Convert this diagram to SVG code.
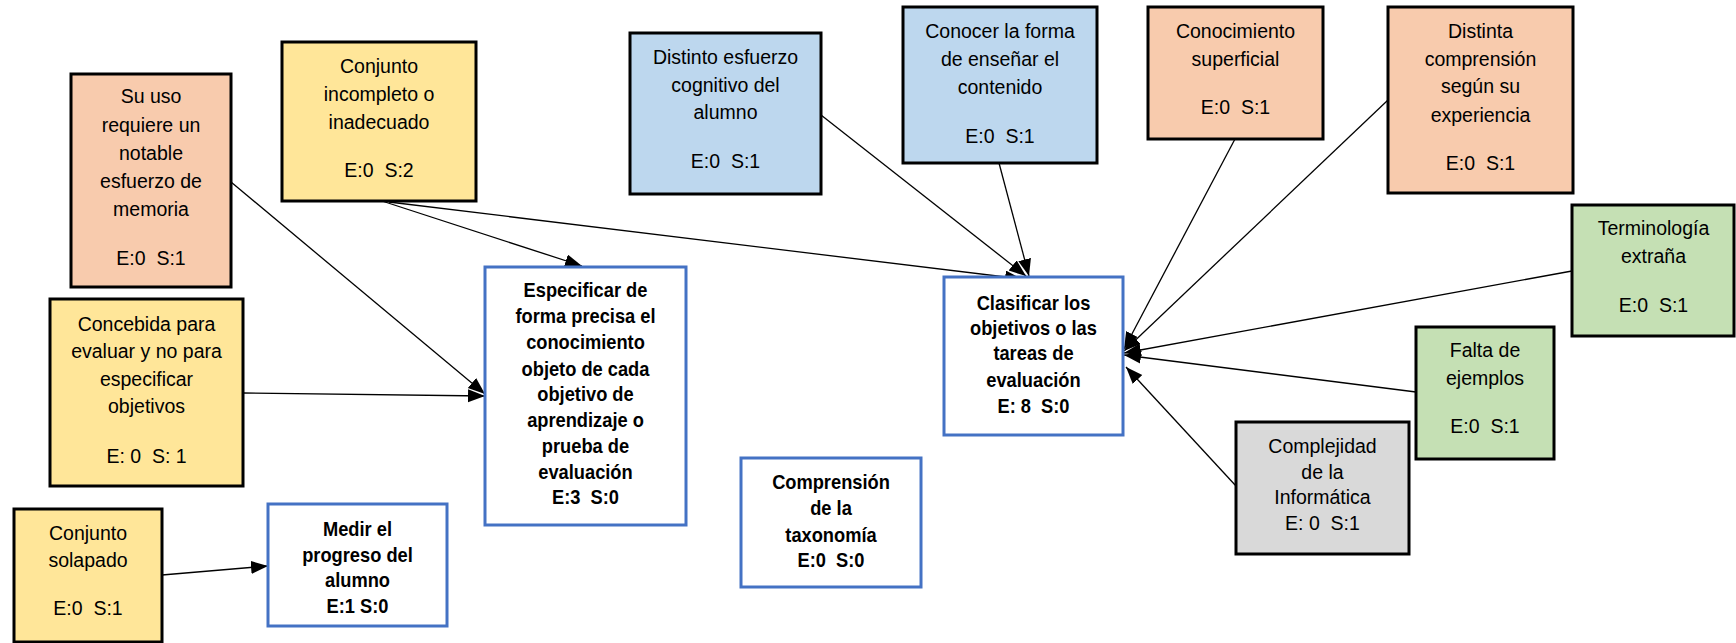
<svg xmlns="http://www.w3.org/2000/svg" width="1736" height="643" viewBox="0 0 1736 643">
  <style>
    .bg { fill: #ffffff; }
    .cause { stroke: #000000; stroke-width: 3; }
    .salmon { fill: #F8CBAD; }
    .yellow { fill: #FFE699; }
    .blue { fill: #BDD7EE; }
    .green { fill: #C5E0B4; }
    .gray { fill: #D9D9D9; }
    .goal { fill: #ffffff; stroke: #4472C4; stroke-width: 3; }
    text { text-anchor: middle; white-space: pre; fill: #000000; }
    .t { font-family: "Liberation Sans", Arial, sans-serif; font-size: 19.5px; }
    /* bold goal labels: condensed horizontally around their centre line */
    .b { font-family: "Liberation Sans", Arial, sans-serif; font-size: 21px; font-weight: bold; }
    .link { stroke: #000000; stroke-width: 1.3; fill: none; marker-end: url(#arrow); }
  </style>
  <defs>
    <marker id="arrow" markerUnits="userSpaceOnUse" markerWidth="19" markerHeight="15" refX="17" refY="6.5" orient="auto">
      <path d="M0,0 L17,6.5 L0,13 z" fill="#000000"/>
    </marker>
  </defs>

  <rect class="bg" x="0" y="0" width="1736" height="643"/>

  <!-- connectors -->
  <g id="connectors">
    <line class="link" x1="231" y1="182" x2="485" y2="394"/>
    <line class="link" x1="243" y1="393" x2="485" y2="396"/>
    <line class="link" x1="382" y1="201" x2="582" y2="266"/>
    <line class="link" x1="389" y1="202" x2="1022" y2="279"/>
    <line class="link" x1="821" y1="115" x2="1026" y2="276"/>
    <line class="link" x1="999" y1="163" x2="1029" y2="276"/>
    <line class="link" x1="1235" y1="139" x2="1124" y2="349"/>
    <line class="link" x1="1388" y1="100" x2="1124" y2="351"/>
    <line class="link" x1="1572" y1="271" x2="1124" y2="353"/>
    <line class="link" x1="1416" y1="392" x2="1124" y2="355"/>
    <line class="link" x1="1236" y1="486" x2="1126" y2="367"/>
    <line class="link" x1="162" y1="575" x2="268" y2="566"/>
  </g>

  <g id="su-uso">
    <rect class="cause salmon" x="71" y="74" width="160" height="213"/>
    <text class="t"><tspan x="151" y="103">Su uso</tspan><tspan x="151" y="132">requiere un</tspan><tspan x="151" y="160">notable</tspan><tspan x="151" y="188">esfuerzo de</tspan><tspan x="151" y="216">memoria</tspan><tspan x="151" y="265">E:0  S:1</tspan></text>
  </g>

  <g id="conjunto-incompleto">
    <rect class="cause yellow" x="282" y="42" width="194" height="159"/>
    <text class="t"><tspan x="379" y="73">Conjunto</tspan><tspan x="379" y="101">incompleto o</tspan><tspan x="379" y="129">inadecuado</tspan><tspan x="379" y="177">E:0  S:2</tspan></text>
  </g>

  <g id="concebida">
    <rect class="cause yellow" x="50" y="299" width="193" height="187"/>
    <text class="t"><tspan x="146.5" y="331">Concebida para</tspan><tspan x="146.5" y="358">evaluar y no para</tspan><tspan x="146.5" y="386">especificar</tspan><tspan x="146.5" y="413">objetivos</tspan><tspan x="146.5" y="463">E: 0  S: 1</tspan></text>
  </g>

  <g id="conjunto-solapado">
    <rect class="cause yellow" x="14" y="509" width="148" height="133"/>
    <text class="t"><tspan x="88" y="540">Conjunto</tspan><tspan x="88" y="567">solapado</tspan><tspan x="88" y="615">E:0  S:1</tspan></text>
  </g>

  <g id="medir">
    <rect class="goal" x="268" y="504" width="179" height="122"/>
    <text class="b" transform="matrix(0.87 0 0 1 46.475 0)"><tspan x="357.5" y="536">Medir el</tspan><tspan x="357.5" y="562">progreso del</tspan><tspan x="357.5" y="587">alumno</tspan><tspan x="357.5" y="613">E:1 S:0</tspan></text>
  </g>

  <g id="especificar">
    <rect class="goal" x="485" y="267" width="201" height="258"/>
    <text class="b" transform="matrix(0.87 0 0 1 76.115 0)"><tspan x="585.5" y="297">Especificar de</tspan><tspan x="585.5" y="323">forma precisa el</tspan><tspan x="585.5" y="349">conocimiento</tspan><tspan x="585.5" y="376">objeto de cada</tspan><tspan x="585.5" y="401">objetivo de</tspan><tspan x="585.5" y="427">aprendizaje o</tspan><tspan x="585.5" y="453">prueba de</tspan><tspan x="585.5" y="479">evaluación</tspan><tspan x="585.5" y="504">E:3  S:0</tspan></text>
  </g>

  <g id="distinto-esfuerzo">
    <rect class="cause blue" x="630" y="33" width="191" height="161"/>
    <text class="t"><tspan x="725.5" y="64">Distinto esfuerzo</tspan><tspan x="725.5" y="92">cognitivo del</tspan><tspan x="725.5" y="119">alumno</tspan><tspan x="725.5" y="168">E:0  S:1</tspan></text>
  </g>

  <g id="conocer-forma">
    <rect class="cause blue" x="903" y="7" width="194" height="156"/>
    <text class="t"><tspan x="1000" y="38">Conocer la forma</tspan><tspan x="1000" y="66">de enseñar el</tspan><tspan x="1000" y="94">contenido</tspan><tspan x="1000" y="143">E:0  S:1</tspan></text>
  </g>

  <g id="clasificar">
    <rect class="goal" x="944" y="277" width="179" height="158"/>
    <text class="b" transform="matrix(0.87 0 0 1 134.355 0)"><tspan x="1033.5" y="310">Clasificar los</tspan><tspan x="1033.5" y="335">objetivos o las</tspan><tspan x="1033.5" y="360">tareas de</tspan><tspan x="1033.5" y="387">evaluación</tspan><tspan x="1033.5" y="413">E: 8  S:0</tspan></text>
  </g>

  <g id="comprension">
    <rect class="goal" x="741" y="458" width="180" height="129"/>
    <text class="b" transform="matrix(0.87 0 0 1 108.03 0)"><tspan x="831" y="489">Comprensión</tspan><tspan x="831" y="515">de la</tspan><tspan x="831" y="542">taxonomía</tspan><tspan x="831" y="567">E:0  S:0</tspan></text>
  </g>

  <g id="conocimiento-superficial">
    <rect class="cause salmon" x="1148" y="7" width="175" height="132"/>
    <text class="t"><tspan x="1235.5" y="38">Conocimiento</tspan><tspan x="1235.5" y="66">superficial</tspan><tspan x="1235.5" y="114">E:0  S:1</tspan></text>
  </g>

  <g id="distinta-comprension">
    <rect class="cause salmon" x="1388" y="7" width="185" height="186"/>
    <text class="t"><tspan x="1480.5" y="38">Distinta</tspan><tspan x="1480.5" y="66">comprensión</tspan><tspan x="1480.5" y="93">según su</tspan><tspan x="1480.5" y="122">experiencia</tspan><tspan x="1480.5" y="170">E:0  S:1</tspan></text>
  </g>

  <g id="terminologia">
    <rect class="cause green" x="1572" y="205" width="162" height="131"/>
    <text class="t"><tspan x="1653.5" y="235">Terminología</tspan><tspan x="1653.5" y="263">extraña</tspan><tspan x="1653.5" y="312">E:0  S:1</tspan></text>
  </g>

  <g id="falta-ejemplos">
    <rect class="cause green" x="1416" y="327" width="138" height="132"/>
    <text class="t"><tspan x="1485" y="357">Falta de</tspan><tspan x="1485" y="385">ejemplos</tspan><tspan x="1485" y="433">E:0  S:1</tspan></text>
  </g>

  <g id="complejidad">
    <rect class="cause gray" x="1236" y="422" width="173" height="132"/>
    <text class="t"><tspan x="1322.5" y="453">Complejidad</tspan><tspan x="1322.5" y="479">de la</tspan><tspan x="1322.5" y="504">Informática</tspan><tspan x="1322.5" y="530">E: 0  S:1</tspan></text>
  </g>
</svg>
